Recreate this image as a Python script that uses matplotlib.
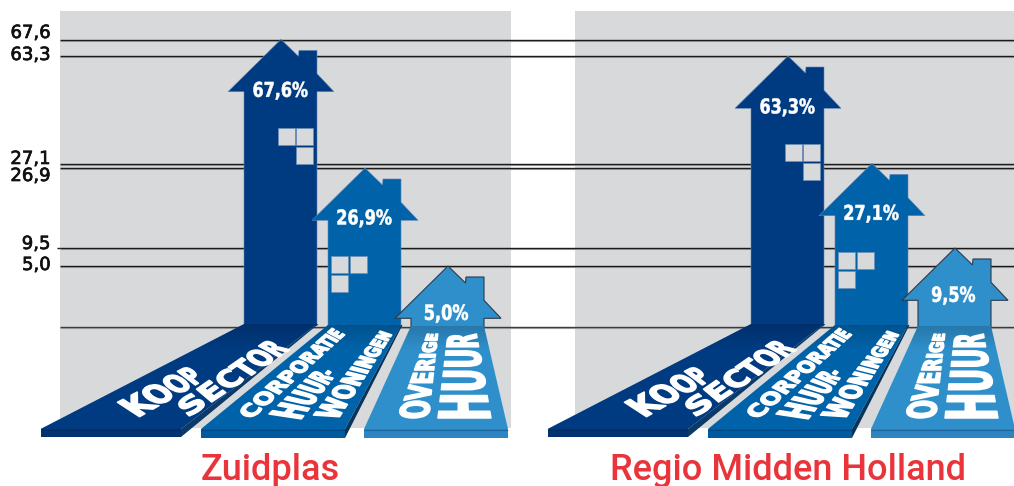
import numpy as np
import matplotlib
matplotlib.use('Agg')
import matplotlib.pyplot as plt
from matplotlib.patches import Polygon, Rectangle
from matplotlib.path import Path
from matplotlib.patheffects import AbstractPathEffect, withStroke
from matplotlib.transforms import IdentityTransform

# woningvoorraad per regio (%)
categories = ['Koopsector', 'Corporatie huurwoningen', 'Overige huur']
zuidplas = [67.6, 26.9, 5.0]
regio = [63.3, 27.1, 9.5]
regions = ['Zuidplas', 'Regio Midden Holland']

# as-labels links
levels = [67.6, 63.3, 27.1, 26.9, 9.5, 5.0]
level_labels = ['67,6', '63,3', '27,1', '26,9', '9,5', '5,0']

# de y-as van de tekening is niet lineair: hoogte in pixels per waarde
scale_values = [0, 5.0, 9.5, 26.9, 27.1, 63.3, 67.6]
scale_px = [326.7, 266.3, 248.3, 168.3, 163.7, 56.3, 39.7]

W, H = 1014, 486
GREY = '#d8d9db'
colors = ['#003a80', '#0062a8', '#2f8fcb']
front_colors = ['#00336f', '#005a9f', '#2c85c0']
side_colors = ['#0b3a68', '#0a3358', None]
RED = '#e8343a'


def val_to_y(v):
    return np.interp(v, scale_values, scale_px)


# tekst blijft echte tekst, maar wordt bij het tekenen in een vierhoek getrokken
class Warp(AbstractPathEffect):
    def __init__(self, quad, ax, k=0.0, stroke=0.5):
        super().__init__()
        self.quad = quad  # linksonder, rechtsonder, rechtsboven, linksboven
        self.ax = ax
        self.k = k  # letters groter aan het begin van het woord
        self.stroke = stroke

    def draw_path(self, renderer, gc, tpath, affine, rgbFace=None):
        verts = tpath.vertices
        ink = verts[tpath.codes != Path.CLOSEPOLY]
        x0, y0 = ink.min(axis=0)
        x1, y1 = ink.max(axis=0)
        u = (verts[:, 0] - x0) / (x1 - x0)
        v = (verts[:, 1] - y0) / (y1 - y0)
        u = u + self.k * u * (1 - u)
        q = self.ax.transData.transform(self.quad)
        a = q[0] + (q[1] - q[0]) * u[:, None]
        b = q[3] + (q[2] - q[3]) * u[:, None]
        new = Path(a + (b - a) * v[:, None], tpath.codes)
        gc0 = renderer.new_gc()
        gc0.copy_properties(gc)
        gc0.set_linewidth(self.stroke)
        gc0.set_foreground(rgbFace)
        renderer.draw_path(gc0, new, IdentityTransform(), rgbFace)
        gc0.restore()


def warped_text(ax, s, quad, k=0.0, stroke=0.5, **kw):
    q = np.array(quad, float)
    cx, cy = q.mean(axis=0)
    angle = np.degrees(np.arctan2(-(q[1, 1] - q[0, 1]), q[1, 0] - q[0, 0]))
    side = np.hypot(*(q[3] - q[0]))
    length = np.hypot(*(q[1] - q[0]))
    size = min(side, 0.72 * length / (0.75 * len(s)))
    t = ax.text(cx, cy, s, ha='center', va='center', rotation=angle,
                rotation_mode='anchor', fontsize=size, color='white', zorder=6, **kw)
    t.set_path_effects([Warp(q, ax, k, stroke)])
    return t


fig = plt.figure(figsize=(W / 100, H / 100), dpi=100)
ax = fig.add_axes([0, 0, 1, 1])
ax.axis('off')

# grijze vlakken
ax.add_patch(Rectangle((60, 11), 451, 417, fc=GREY, ec='none', zorder=0))
ax.add_patch(Rectangle((575, 11), 439, 417, fc=GREY, ec='none', zorder=0))

# lijnen
for lv in levels:
    y = val_to_y(lv)
    ax.hlines(y + 1, 60, W, color='#a9aaad', lw=0.8, zorder=1)
    ax.hlines(y, 60, W, color='#1a1a1a', lw=1.0, zorder=1.1)
ax.hlines(val_to_y(0) + 1, 60, W, color='#a9aaad', lw=0.8, zorder=1)
ax.hlines(val_to_y(0), 60, W, color='#3c3c3c', lw=1.0, zorder=1.1)
ax.hlines(val_to_y(9.5), 57, 60, color='#1a1a1a', lw=1.0, zorder=1.1)

# labels links (baseline in pixels, ze staan uit elkaar geschoven)
label_base = [38, 60, 164, 181, 249, 270]
for lab, yb in zip(level_labels, label_base):
    t = ax.text(50.5, yb, lab, ha='right', va='baseline', fontsize=13,
                family='DejaVu Sans', color='#111111', zorder=5)
    t.set_path_effects([withStroke(linewidth=0.5, foreground='#111111')])

body_left = [244, 328, 411]
body_w = 73
road_bottom = [(40.5, 181), (201, 345), (364, 508)]
road_top_y = [324, 325, 326]
front_bottom = [437, 438, 438]
win_cols = [[34, 52], [3, 22], []]
win_row2 = [1, 0, None]
label_w = [54, 54, 43]
label_dy = [(-10, 8), (-11, 7), (-14, 4.5)]

road_text = [
    [('KOOP', [(140, 417), (205, 380), (187, 366), (117, 402)]),
     ('SECTOR', [(190, 417), (290, 350), (268, 339), (176, 403)])],
    [('CORPORATIE', [(252, 419), (345, 335), (332, 328), (237, 412)]),
     ('HUUR-', [(302, 419), (336, 375), (320, 366), (269, 414)]),
     ('WONINGEN', [(338, 420), (392, 335), (380, 331), (313, 415)])],
    [('OVERIGE', [(429, 418), (438, 334), (427, 334), (397, 418)]),
     ('HUUR', [(492, 418), (477, 334), (448, 334), (438, 418)])],
]

for off, values, name in zip([0, 507], [zuidplas, regio], regions):
    for i, v in enumerate(values):
        c = colors[i]
        ec = '#2b3a4a' if i == 2 else '#5f86b5'
        lw = 0.8 if i == 2 else 0.4
        z = 2 + i * 0.1
        left = body_left[i] + off
        right = left + body_w
        mid = left + body_w / 2 + 0.5
        peak = val_to_y(v) - 0.3
        eave = peak + 52.3
        chim = peak + 11
        base = road_top_y[i] + 2

        # huis
        house = [(mid, peak), (left + 54.5, peak + 17), (left + 55, chim), (right, chim),
                 (right, eave - 18), (mid + 53, eave), (right, eave), (right, base),
                 (left, base), (left, eave), (mid - 53, eave)]
        ax.add_patch(Polygon(house, closed=True, fc=c, ec=ec, lw=lw, joinstyle='miter', zorder=z))

        # ramen
        if win_cols[i]:
            for cx in win_cols[i]:
                ax.add_patch(Rectangle((left + cx, eave + 36), 17, 17, fc=GREY, ec='#6d8fb8', lw=0.5, zorder=z + 0.01))
            ax.add_patch(Rectangle((left + win_cols[i][win_row2[i]], eave + 55), 17, 17,
                                   fc=GREY, ec='#6d8fb8', lw=0.5, zorder=z + 0.01))

        # percentage op het huis
        lab = f'{v:.1f}%'.replace('.', ',')
        hw = label_w[i] / 2
        cx = mid - 0.5 if i < 2 else mid - 1.5
        top, bot = eave + label_dy[i][0], eave + label_dy[i][1]
        warped_text(ax, lab, [(cx - hw, bot), (cx + hw, bot), (cx + hw, top), (cx - hw, top)],
                    stroke=0.4, family='DejaVu Sans', weight='bold')

        # weg met perspectief
        bl, br = road_bottom[i][0] + off, road_bottom[i][1] + off
        ty = road_top_y[i]
        road = [(left, ty), (right, ty), (br, 429), (bl, 429)]
        if side_colors[i]:
            side = [(right, ty), (right + 1.5, ty), (br, front_bottom[i]), (br, 429)]
            ax.add_patch(Polygon(side, closed=True, fc=side_colors[i], ec='none', zorder=3))
        poly = Polygon(road, closed=True, fc=c, ec='none', zorder=3.1)
        ax.add_patch(poly)
        # donkerder naar boven toe
        grad = np.zeros((64, 2, 4))
        grad[..., 3] = np.linspace(0.16, 0, 64)[:, None]
        im = ax.imshow(grad, extent=(min(bl, left), max(br, right), ty + 24, ty), aspect='auto', zorder=3.2)
        im.set_clip_path(poly)
        # voorkant
        ax.add_patch(Rectangle((bl, 429), br - bl, front_bottom[i] - 429, fc=front_colors[i], ec='none', zorder=3.3))
        ax.hlines(429.5, bl, br, color='#00275a', alpha=0.35, lw=0.8, zorder=3.4)

        for s, quad in road_text[i]:
            warped_text(ax, s, [(x + off, y) for x, y in quad], k=0.35, stroke=1.1,
                        family='DejaVu Sans', weight='bold')

ax.text(270.5, 480, regions[0], ha='center', va='baseline', fontsize=26, family='Roboto', weight=500, color=RED, zorder=5)
ax.text(787.5, 480, regions[1], ha='center', va='baseline', fontsize=26, family='Roboto', weight=500, color=RED, zorder=5)

ax.set_xlim(0, W)
ax.set_ylim(H, 0)
fig.savefig('out.png', dpi=100)
